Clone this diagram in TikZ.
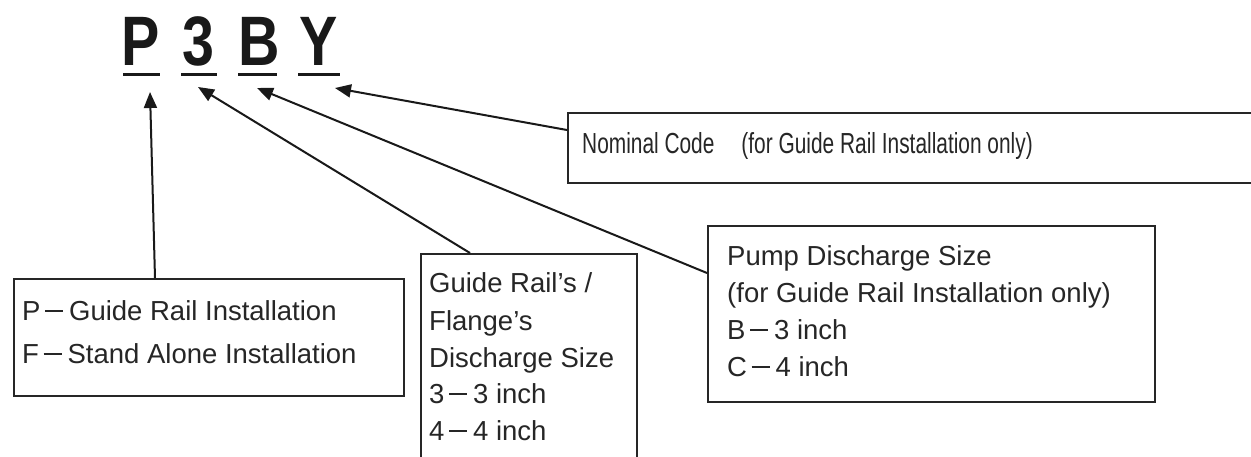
\documentclass[tikz,border=0pt]{standalone}
\usepackage{fontspec}
\setmainfont{Liberation Sans}
\newfontfamily\bigfont{Liberation Sans}[FakeStretch=0.82]
\newfontfamily\narrowfont{Liberation Sans}[FakeStretch=0.72]
\usetikzlibrary{arrows.meta}
\newcommand\dsh{\kern0.17em\rule[0.3em]{0.65em}{0.055em}\kern0.22em}
\begin{document}
\begin{tikzpicture}[x=1pt,y=-1pt,
  box/.style={draw=black!85, line width=1.5pt, inner sep=0pt, anchor=north west},
  txt/.style={anchor=base west, inner sep=0pt, font=\fontsize{27.5}{33}\selectfont, text=black!85},
  ntxt/.style={anchor=base west, inner sep=0pt, font=\narrowfont\fontsize{29}{33}\selectfont, text=black!85},
  big/.style={anchor=base, inner sep=0pt, font=\bigfont\bfseries\fontsize{70}{70}\selectfont, text=black!90},
  uline/.style={line width=3pt, draw=black!90},
  arr/.style={line width=2pt, draw=black!90, -{Triangle[length=16pt,width=13pt]}}]
\useasboundingbox (0,0) rectangle (1251,456);
\clip (0,0) rectangle (1251,456);
\fill[white] (0,0) rectangle (1251,456);

% code letters
\node[big] (lP) at (141,65) {P};
\node[big] (l3) at (198.5,65) {3};
\node[big] (lB) at (259.5,65) {B};
\node[big] (lY) at (318.5,65) {Y};
\draw[uline] (123,74) -- (160,74);
\draw[uline] (181,74) -- (217,74);
\draw[uline] (238,74) -- (277,74);
\draw[uline] (298,74) -- (340,74);

% arrow tips
\coordinate (tP) at (150,92);
\coordinate (t3) at (198,87);
\coordinate (tB) at (257,88);
\coordinate (tY) at (335,88);

% boxes
\node[box, minimum width=390pt, minimum height=117pt] (b1) at (13,278) {};
\node[box, minimum width=216pt, minimum height=240pt] (b2) at (420,253) {};
\node[box, minimum width=447pt, minimum height=176pt] (b3) at (707,225) {};
\node[box, minimum width=720pt, minimum height=70pt] (b4) at (567,112) {};

% texts
\node[txt] (b1a) at (22,320) {P\dsh Guide Rail Installation};
\node[txt] (b1b) at (22,363) {F\dsh Stand Alone Installation};

\node[txt] (b2a) at (429,292) {Guide Rail’s /};
\node[txt] (b2b) at (429,330) {Flange’s};
\node[txt] (b2c) at (429,367) {Discharge Size};
\node[txt] (b2d) at (429,403) {3\dsh 3 inch};
\node[txt] (b2e) at (429,440) {4\dsh 4 inch};

\node[txt] (b3a) at (727,265) {Pump Discharge Size};
\node[txt] (b3b) at (727,302) {(for Guide Rail Installation only)};
\node[txt] (b3c) at (727,339) {B\dsh 3 inch};
\node[txt] (b3d) at (727,376) {C\dsh 4 inch};

\node[ntxt] (b4a) at (582,153) {Nominal Code\hspace{27pt}(for Guide Rail Installation only)};

% connectors
\draw[arr] ([xshift=142pt]b1.north west) -- (tP);
\draw[arr] ([xshift=50pt]b2.north west) -- (t3);
\draw[arr] ([yshift=-48pt]b3.north west) -- (tB);
\draw[arr] ([yshift=-18pt]b4.north west) -- (tY);
\end{tikzpicture}
\end{document}
